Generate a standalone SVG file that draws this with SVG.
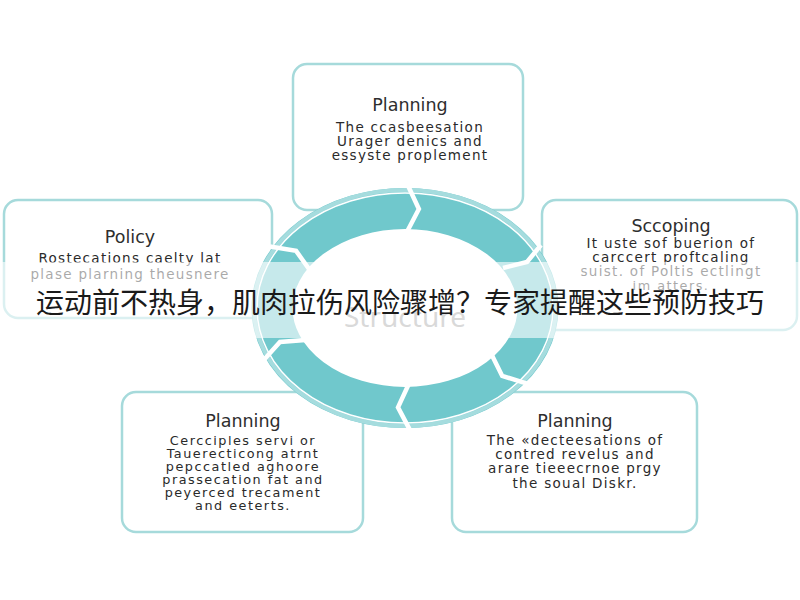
<svg xmlns="http://www.w3.org/2000/svg" width="800" height="600" viewBox="0 0 800 600">
  <style>
    .box { fill: #ffffff; stroke: #a6dadb; stroke-width: 2.5; }
    .title { font-family: "DejaVu Sans", "Noto Sans", sans-serif; font-size: 17.5px; fill: #2e2e2e; text-anchor: middle; }
    .body { font-family: "DejaVu Sans", "Noto Sans", sans-serif; font-size: 13.5px; letter-spacing: 1.3px; fill: #2a2a2a; text-anchor: middle; }
    .tight { font-size: 12.8px; letter-spacing: 1.5px; }
    .sep { fill: none; stroke: #ffffff; stroke-width: 4.5; stroke-linejoin: miter; }
    .caption { font-family: "Noto Sans CJK SC", "Noto Sans", sans-serif; font-size: 28px; fill: #1a1a1a; text-anchor: middle; }
  </style>
  <rect x="0" y="0" width="800" height="600" fill="#ffffff"/>

  <g id="node-top">
    <rect class="box" x="293" y="64" width="230" height="146" rx="14"/>
    <text class="title" x="410" y="111">Planning</text>
    <text class="body" x="410" y="132">The ccasbeesation</text>
    <text class="body" x="410" y="146">Urager denics and</text>
    <text class="body" x="410" y="160">essyste proplement</text>
  </g>

  <g id="node-policy">
    <rect class="box" x="4" y="200" width="268" height="118" rx="14"/>
    <text class="title" x="130" y="243">Policy</text>
    <text class="body" x="130" y="263">Rostecations caelty lat</text>
    <text class="body" x="130" y="279">plase plarning theusnere</text>
  </g>

  <g id="node-scoping">
    <rect class="box" x="542" y="200" width="255" height="130" rx="14"/>
    <text class="title" x="671" y="232">Sccoping</text>
    <text class="body" x="671" y="248">It uste sof buerion of</text>
    <text class="body" x="671" y="262">carccert proftcaling</text>
    <text class="body" x="671" y="276">suist. of Poltis ectlingt</text>
    <text class="body tight" x="671" y="290">im atters.</text>
  </g>

  <g id="node-bottom-left">
    <rect class="box" x="122" y="392" width="241" height="140" rx="14"/>
    <text class="title" x="243" y="427">Planning</text>
    <text class="body tight" x="243" y="445">Cercciples servi or</text>
    <text class="body tight" x="243" y="458">Tauerecticong atrnt</text>
    <text class="body tight" x="243" y="471">pepccatled aghoore</text>
    <text class="body tight" x="243" y="484">prassecation fat and</text>
    <text class="body tight" x="243" y="497">peyerced trecament</text>
    <text class="body tight" x="243" y="510">and eeterts.</text>
  </g>

  <g id="node-bottom-right">
    <rect class="box" x="452" y="392" width="245" height="140" rx="14"/>
    <text class="title" x="575" y="427">Planning</text>
    <text class="body" x="575" y="445">The «decteesations of</text>
    <text class="body" x="575" y="459">contred revelus and</text>
    <text class="body" x="575" y="473">arare tieeecrnoe prgy</text>
    <text class="body" x="575" y="488">the soual Diskr.</text>
  </g>

  <g id="connectors">
    <g id="cycle">
      <ellipse cx="405" cy="308" rx="133" ry="99.5" fill="none" stroke="#70c8cc" stroke-width="41"/>
      <ellipse cx="405" cy="308" rx="151" ry="118" fill="none" stroke="#a5dcde" stroke-width="4"/>
      <ellipse cx="405" cy="308" rx="148" ry="115" fill="none" stroke="#ffffff" stroke-width="1.5"/>
      <polyline class="sep" points="407.7,185 418.9,209 406.9,232"/>
      <polyline class="sep" points="541,245 527,262 503,268"/>
      <polyline class="sep" points="527.9,383.8 502.2,375.9 491.7,354.8"/>
      <polyline class="sep" points="410.4,430.9 398,407.4 408.8,384"/>
      <polyline class="sep" points="263.7,360 280,342 305.3,340.1"/>
      <polyline class="sep" points="269.9,246.5 296.1,250.9 309.7,270"/>
    </g>
  </g>

  <text x="405" y="327" font-family="Noto Sans, sans-serif" font-size="28" fill="#a0a0a0" text-anchor="middle">Structure</text>

  <rect id="banner" x="0" y="262" width="800" height="76" fill="#ffffff" fill-opacity="0.6"/>
  <text class="caption" x="400" y="313">运动前不热身，肌肉拉伤风险骤增？专家提醒这些预防技巧</text>
</svg>
